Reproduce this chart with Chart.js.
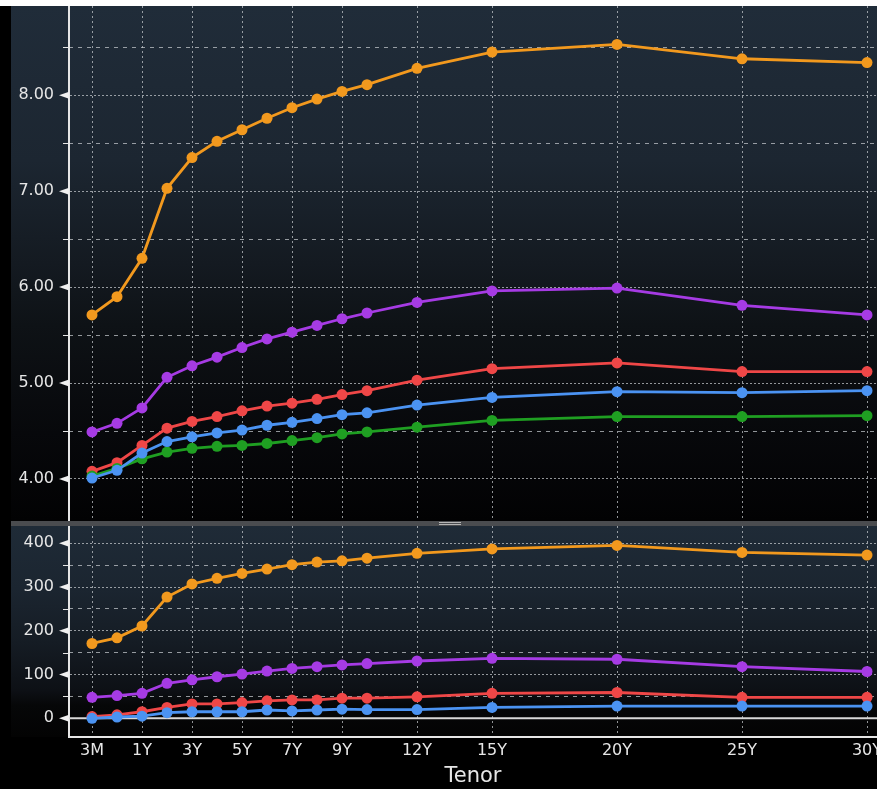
<!DOCTYPE html>
<html>
<head>
<meta charset="utf-8">
<title>Tenor curves</title>
<script src="https://cdn.jsdelivr.net/npm/chart.js@4.4.0/dist/chart.umd.min.js"></script>
<style>
    html, body { margin: 0; padding: 0; background: #000; }
    #wrap { position: relative; width: 877px; height: 789px; overflow: hidden; background: #000; }
    #topStrip { position: absolute; left: 0; top: 0; width: 877px; height: 6px; background: #fff; }
    #yieldCanvas { position: absolute; left: 0; top: 6px; }
    #divider { position: absolute; left: 11px; top: 521px; width: 866px; height: 5px; background: #4a4c4f; }
    #handle { position: absolute; left: 439px; top: 522px; width: 22px; height: 1px;
              border-top: 1px solid #b5b5b5; border-bottom: 1px solid #b5b5b5; }
    #spreadCanvas { position: absolute; left: 0; top: 526px; }
</style>
</head>
<body>
<div id="wrap">
    <div id="topStrip"></div>
    <canvas id="yieldCanvas" width="877" height="515"></canvas>
    <div id="divider"></div>
    <div id="handle"></div>
    <canvas id="spreadCanvas" width="877" height="263"></canvas>
</div>

<script>
// ====================================
// DATA
// ====================================

// Tenors and their value on the tenor axis (3M and 6M get one slot each)
const tenorLabels = ['3M', '6M', '1Y', '2Y', '3Y', '4Y', '5Y', '6Y', '7Y', '8Y', '9Y', '10Y', '12Y', '15Y', '20Y', '25Y', '30Y'];
const tenorX      = [-1, 0, 1, 2, 3, 4, 5, 6, 7, 8, 9, 10, 12, 15, 20, 25, 30];
const xTickTenors = ['3M', '1Y', '3Y', '5Y', '7Y', '9Y', '12Y', '15Y', '20Y', '25Y', '30Y'];

// Upper panel: yields (%)
const orangeYield = [5.71, 5.90, 6.30, 7.03, 7.35, 7.52, 7.64, 7.76, 7.87, 7.96, 8.04, 8.11, 8.28, 8.45, 8.53, 8.38, 8.34];
const purpleYield = [4.49, 4.58, 4.74, 5.06, 5.18, 5.27, 5.37, 5.46, 5.53, 5.60, 5.67, 5.73, 5.84, 5.96, 5.99, 5.81, 5.71];
const redYield    = [4.08, 4.17, 4.35, 4.53, 4.60, 4.65, 4.71, 4.76, 4.79, 4.83, 4.88, 4.92, 5.03, 5.15, 5.21, 5.12, 5.12];
const blueYield   = [4.01, 4.09, 4.27, 4.39, 4.44, 4.48, 4.51, 4.56, 4.59, 4.63, 4.67, 4.69, 4.77, 4.85, 4.91, 4.90, 4.92];
const greenYield  = [4.03, 4.11, 4.21, 4.28, 4.32, 4.34, 4.35, 4.37, 4.40, 4.43, 4.47, 4.49, 4.54, 4.61, 4.65, 4.65, 4.66];

// Lower panel: spreads (bp)
const orangeSpread = [171, 184, 211, 277, 307, 320, 331, 341, 351, 357, 360, 366, 377, 387, 395, 379, 373];
const purpleSpread = [48, 52, 57, 80, 88, 95, 101, 108, 114, 118, 122, 125, 131, 137, 135, 118, 107];
const redSpread    = [4, 8, 15, 25, 33, 33, 36, 40, 42, 42, 46, 46, 49, 57, 59, 48, 48];
const blueSpread   = [0, 3, 5, 13, 15, 15, 15, 19, 17, 19, 21, 20, 20, 25, 28, 28, 28];

// Axis ticks (major = labelled, minor = grid only)
const yieldTicks       = [4, 5, 6, 7, 8];
const yieldMinorTicks  = [4.5, 5.5, 6.5, 7.5, 8.5];
const spreadTicks      = [0, 100, 200, 300, 400];
const spreadMinorTicks = [50, 150, 250, 350];

// ====================================
// STYLE
// ====================================

const FONT = 'DejaVu Sans';
const AXIS_LEFT = 69;
const LABEL_COLOR = '#e6e6e6';
const GRID_COLOR = 'rgba(200, 204, 208, 0.72)';

const COLORS = {
    orange: '#f2991e',
    purple: '#a63be4',
    red: '#ef4747',
    blue: '#4b93f2',
    green: '#1f9f22'
};

Chart.defaults.animation = false;
Chart.defaults.font.family = FONT;

// Build a line dataset from one series
function lineSet(values, color, order) {
    return {
        data: tenorX.map((x, i) => ({ x: x, y: values[i] })),
        yAxisID: 'y',
        borderColor: color,
        backgroundColor: color,
        borderWidth: 2.8,
        pointRadius: 5.5,
        pointHoverRadius: 5.5,
        pointBorderWidth: 0,
        tension: 0,
        order: order
    };
}

// Shared x axis (labels only on the lower panel)
function xAxis(showLabels) {
    return {
        type: 'linear',
        min: -1.92,
        max: 30.4,
        afterBuildTicks: scale => {
            scale.ticks = xTickTenors.map(t => ({ value: tenorX[tenorLabels.indexOf(t)] }));
        },
        ticks: {
            display: showLabels,
            color: LABEL_COLOR,
            font: { family: FONT, size: 16 },
            padding: 4,
            maxRotation: 0,
            autoSkip: false,
            callback: value => tenorLabels[tenorX.indexOf(value)]
        },
        grid: { color: GRID_COLOR, lineWidth: 1, drawTicks: false },
        border: { display: showLabels, color: '#e6e6e6', width: 2, dash: [2, 3] },
        title: {
            display: showLabels,
            text: 'Tenor',
            color: LABEL_COLOR,
            font: { family: FONT, size: 21 },
            padding: { top: 0, bottom: 0 }
        },
        afterFit: scale => {
            scale.paddingLeft = 0;
            scale.paddingRight = 0;
            scale.height = showLabels ? 52 : 0;
        }
    };
}

// Left value axis with the labelled ticks
function yAxis(min, max, ticks, format) {
    return {
        min: min,
        max: max,
        afterBuildTicks: scale => {
            scale.ticks = ticks.map(v => ({ value: v }));
        },
        ticks: {
            color: LABEL_COLOR,
            font: { family: FONT, size: 16 },
            padding: 8,
            callback: value => format(value)
        },
        grid: {
            color: GRID_COLOR,
            lineWidth: 1,
            tickColor: '#e6e6e6',
            tickLength: 7
        },
        border: { color: '#e6e6e6', width: 2, dash: [2, 2] },
        afterFit: scale => {
            scale.width = AXIS_LEFT;
            scale.paddingTop = 0;
            scale.paddingBottom = 0;
        }
    };
}

// Zero-width axis that only draws the half-step grid lines
function yMinorAxis(min, max, ticks) {
    return {
        min: min,
        max: max,
        position: 'left',
        afterBuildTicks: scale => {
            scale.ticks = ticks.map(v => ({ value: v }));
        },
        ticks: { display: false },
        grid: { color: GRID_COLOR, lineWidth: 1, drawTicks: false },
        border: { display: false, dash: [4, 5] },
        afterFit: scale => {
            scale.width = 0;
            scale.paddingTop = 0;
            scale.paddingBottom = 0;
        }
    };
}

// Panel background gradient
function backgroundPlugin(stops) {
    return {
        id: 'panelBackground',
        beforeDraw(chart) {
            const { ctx, width, chartArea } = chart;
            const g = ctx.createLinearGradient(0, 0, 0, chartArea.bottom);
            stops.forEach(s => g.addColorStop(s[0], s[1]));
            ctx.save();
            ctx.fillStyle = '#000';
            ctx.fillRect(0, 0, width, chart.height);
            ctx.fillStyle = g;
            ctx.fillRect(11, 0, width - 11, chartArea.bottom);
            ctx.restore();
        }
    };
}

// Arrow heads on labelled ticks, short marks on the half steps
const markerPlugin = {
    id: 'tickMarkers',
    afterDraw(chart) {
        const { ctx } = chart;
        const major = chart.scales.y;
        const minor = chart.scales.yMinor;
        ctx.save();
        ctx.fillStyle = '#f0f0f0';
        major.ticks.forEach(t => {
            const y = major.getPixelForValue(t.value);
            ctx.beginPath();
            ctx.moveTo(AXIS_LEFT, y - 3.5);
            ctx.lineTo(AXIS_LEFT, y + 3.5);
            ctx.lineTo(AXIS_LEFT - 10, y);
            ctx.closePath();
            ctx.fill();
        });
        ctx.strokeStyle = '#e6e6e6';
        ctx.lineWidth = 1;
        minor.ticks.forEach(t => {
            const y = Math.round(minor.getPixelForValue(t.value)) + 0.5;
            ctx.beginPath();
            ctx.moveTo(AXIS_LEFT - 6, y);
            ctx.lineTo(AXIS_LEFT, y);
            ctx.stroke();
        });
        ctx.restore();
    }
};

// Solid zero line in the spread panel
const zeroLinePlugin = {
    id: 'zeroLine',
    beforeDatasetsDraw(chart) {
        const { ctx, chartArea } = chart;
        const y = chart.scales.y.getPixelForValue(0);
        ctx.save();
        ctx.strokeStyle = '#d8d8d8';
        ctx.lineWidth = 2;
        ctx.beginPath();
        ctx.moveTo(chartArea.left, y);
        ctx.lineTo(chartArea.right, y);
        ctx.stroke();
        ctx.restore();
    }
};

// ====================================
// UPPER PANEL - YIELDS
// ====================================

const YIELD_MIN = 3.562, YIELD_MAX = 8.93;

new Chart(document.getElementById('yieldCanvas'), {
    type: 'line',
    data: {
        datasets: [
            lineSet(orangeYield, COLORS.orange, 5),
            lineSet(purpleYield, COLORS.purple, 4),
            lineSet(redYield, COLORS.red, 3),
            lineSet(blueYield, COLORS.blue, 1),
            lineSet(greenYield, COLORS.green, 2)
        ]
    },
    options: {
        responsive: false,
        layout: { padding: 0, autoPadding: false },
        plugins: { legend: { display: false }, tooltip: { enabled: false } },
        scales: {
            y: yAxis(YIELD_MIN, YIELD_MAX, yieldTicks, v => v.toFixed(2)),
            yMinor: yMinorAxis(YIELD_MIN, YIELD_MAX, yieldMinorTicks),
            x: xAxis(false)
        }
    },
    plugins: [
        backgroundPlugin([[0, '#202c39'], [0.3, '#1c2631'], [0.5, '#141a21'], [0.62, '#0e1216'], [0.83, '#07080b'], [1, '#020203']]),
        markerPlugin
    ]
});

// ====================================
// LOWER PANEL - SPREADS
// ====================================

const SPREAD_MIN = -42.7, SPREAD_MAX = 439.5;

new Chart(document.getElementById('spreadCanvas'), {
    type: 'line',
    data: {
        datasets: [
            lineSet(orangeSpread, COLORS.orange, 4),
            lineSet(purpleSpread, COLORS.purple, 3),
            lineSet(redSpread, COLORS.red, 2),
            lineSet(blueSpread, COLORS.blue, 1)
        ]
    },
    options: {
        responsive: false,
        layout: { padding: 0, autoPadding: false },
        plugins: { legend: { display: false }, tooltip: { enabled: false } },
        scales: {
            y: yAxis(SPREAD_MIN, SPREAD_MAX, spreadTicks, v => String(v)),
            yMinor: yMinorAxis(SPREAD_MIN, SPREAD_MAX, spreadMinorTicks),
            x: xAxis(true)
        }
    },
    plugins: [
        backgroundPlugin([[0, '#1f2b37'], [0.3, '#1b2530'], [0.55, '#151c24'], [0.78, '#0d1015'], [0.85, '#060708'], [1, '#030303']]),
        markerPlugin,
        zeroLinePlugin
    ]
});
</script>
</body>
</html>
